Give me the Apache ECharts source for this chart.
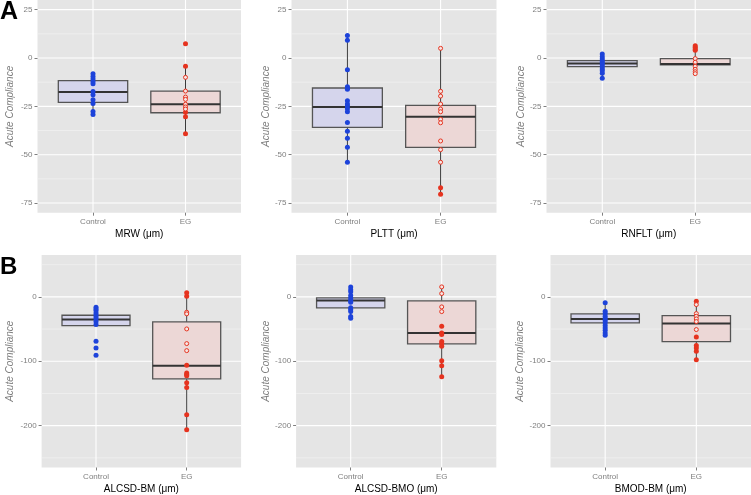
<!DOCTYPE html>
<html>
<head>
<meta charset="utf-8">
<script src="https://cdn.jsdelivr.net/npm/echarts@6/dist/echarts.min.js"></script>
<style>
html,body{margin:0;padding:0;background:#fff;}
#chart{width:751px;height:495px;}
</style>
</head>
<body>
<div id="chart"></div>
<script>
// ---------- data ----------
const groups = ['Control', 'EG'];
const panelNames = ['MRW (\u03bcm)', 'PLTT (\u03bcm)', 'RNFLT (\u03bcm)', 'ALCSD-BM (\u03bcm)', 'ALCSD-BMO (\u03bcm)', 'BMOD-BM (\u03bcm)'];
const panelLetters = ['A', 'B'];
const yTicksTop = [25, 0, -25, -50, -75];
const yMinorTop = [12.5, -12.5, -37.5, -62.5];
const yTicksBottom = [0, -100, -200];
const yMinorBottom = [50, -50, -150, -250];

// box stats: [lower whisker, Q1, median, Q3, upper whisker]
const boxControl = [
  [-29.2, -22.9, -17.6, -11.7, -8.2],
  [-53.9, -35.9, -25.3, -15.5, 11.7],
  [-10.5, -4.5, -2.9, -1.4, 2.1],
  [-44.6, -44.6, -35.3, -28.6, -16.2],
  [-33.3, -17.1, -5.8, -1.6, 15.5],
  [-59.7, -40.5, -34.2, -26.5, -9.3]
];
const boxEG = [
  [-39.2, -28.3, -23.9, -17.1, -4.3],
  [-70.5, -46.2, -30.4, -24.5, 5.0],
  [-8.1, -3.6, -3.1, -0.3, 6.4],
  [-206.4, -127.5, -106.8, -38.9, 6.2],
  [-123.9, -73.1, -56.0, -6.2, 15.5],
  [-97.5, -69.5, -41.5, -29.1, -6.8]
];

// individual points
const ptsControl = [
  [-8.2, -9.5, -10.8, -12.1, -13.3, -17.3, -19.0, -21.6, -23.5, -27.6, -29.2],
  [11.7, 9.2, -6.1, -14.8, -15.7, -16.2, -22.1, -23.8, -24.8, -26.2, -27.8, -33.3, -37.9, -41.5, -46.2, -53.9],
  [2.1, 0.7, -0.5, -1.6, -2.4, -3.4, -4.5, -5.7, -6.6, -7.9, -10.5],
  [-16.2, -18.7, -21.3, -24.9, -28.0, -31.1, -34.2, -38.4, -43.1, -69.0, -79.3, -90.8],
  [15.5, 11.0, 7.8, 2.0, -1.6, -5.3, -8.4, -17.1, -19.7, -22.9, -30.6, -33.3],
  [-9.3, -22.4, -26.0, -30.2, -33.7, -36.9, -40.4, -44.6, -48.2, -51.9, -56.0, -59.7]
];
const ptsEGFilled = [
  [7.4, -4.3, -28.1, -30.4, -39.2],
  [-67.1, -70.5],
  [6.4, 5.5, 4.7, 4.0],
  [6.2, 0.9, -106.4, -118.2, -120.4, -122.4, -133.3, -140.6, -183.0, -206.4],
  [-45.7, -56.0, -58.6, -69.5, -72.6, -76.8, -99.1, -106.8, -123.9],
  [-6.8, -62.2, -75.7, -79.3, -84.6, -97.5]
];
const ptsEGOpen = [
  [-10.0, -17.1, -20.2, -21.4, -23.9, -25.3, -26.4],
  [5.0, -17.2, -19.7, -23.8, -26.4, -27.8, -31.7, -33.5, -42.9, -47.4, -53.9],
  [-0.3, -2.2, -4.3, -5.9, -7.1, -8.1],
  [-23.9, -26.4, -49.8, -72.6, -83.5],
  [15.5, 5.1, -15.6, -22.9],
  [-12.0, -26.0, -30.2, -34.2, -38.4, -50.8]
];

// ---------- layout / style ----------
const gridPos = [
  {left: 37.5, top: 0, width: 203.5, height: 212.7},
  {left: 291.5, top: 0, width: 205, height: 212.7},
  {left: 546.5, top: 0, width: 205, height: 212.7},
  {left: 41.6, top: 255, width: 199.5, height: 213.3},
  {left: 296.1, top: 255, width: 200.2, height: 213.3},
  {left: 550.5, top: 255, width: 201, height: 213.3}
];
const yNameGap = [22.5, 19.5, 19.5, 26.5, 24.5, 23.5];
const FONT = 'Liberation Sans, Arial, sans-serif';
const BLUE = '#1d43da';
const RED = '#e6331f';
const CTRL_FILL = '#d5d5ec';
const EG_FILL = '#ecd7d6';

const chart = echarts.init(document.getElementById('chart'), null, {renderer: 'canvas'});

const grids = [], xAxes = [], yAxes = [], series = [];

for (let i = 0; i < 6; i++) {
  const top = i < 3;
  const yMin = top ? -80 : -265;
  const yMax = top ? 30 : 65;
  const ticks = top ? yTicksTop : yTicksBottom;
  const minor = top ? yMinorTop : yMinorBottom;
  grids.push(Object.assign({show: true, backgroundColor: '#e5e5e5', borderWidth: 0, containLabel: false}, gridPos[i]));
  xAxes.push({
    gridIndex: i, type: 'value', min: 0.4, max: 2.6, position: 'bottom',
    splitLine: {show: false}, axisLine: {show: false, onZero: false},
    axisTick: {show: true, length: 3, customValues: [1, 2], lineStyle: {color: '#7f7f7f', width: 1}},
    axisLabel: {customValues: [1, 2], formatter: v => groups[Math.round(v) - 1], color: '#7f7f7f', fontSize: 8, fontFamily: FONT, margin: 5},
    name: panelNames[i], nameLocation: 'middle', nameGap: 16.5,
    nameTextStyle: {color: '#000', fontSize: 10, fontFamily: FONT}
  });
  yAxes.push({
    gridIndex: i, type: 'value', min: yMin, max: yMax, position: 'left',
    splitLine: {show: false}, axisLine: {show: false, onZero: false},
    axisTick: {show: true, length: 3, customValues: ticks, lineStyle: {color: '#7f7f7f', width: 1}},
    axisLabel: {customValues: ticks, color: '#7f7f7f', fontSize: 8, fontFamily: FONT, margin: 5},
    name: 'Acute Compliance', nameLocation: 'middle', nameGap: yNameGap[i], nameRotate: 90,
    nameTextStyle: {color: '#7f7f7f', fontSize: 10, fontStyle: 'italic', fontFamily: FONT}
  });

  // grid lines
  const gl = [];
  minor.forEach(v => gl.push([0, v, 0]));
  ticks.forEach(v => gl.push([0, v, 1]));
  [1, 2].forEach(v => gl.push([1, v, 1]));
  series.push({
    type: 'custom', xAxisIndex: i, yAxisIndex: i, z: 0, silent: true, clip: true,
    data: gl,
    renderItem: function (params, api) {
      const cs = params.coordSys;
      const orient = api.value(0), v = api.value(1), major = api.value(2);
      let shape;
      if (orient === 0) {
        const y = api.coord([1, v])[1];
        shape = {x1: cs.x, y1: y, x2: cs.x + cs.width, y2: y};
      } else {
        const x = api.coord([v, 0])[0];
        shape = {x1: x, y1: cs.y, x2: x, y2: cs.y + cs.height};
      }
      return {type: 'line', shape: shape, style: {stroke: major ? '#ffffff' : '#f2f2f2', lineWidth: major ? 1.1 : 0.7}};
    }
  });

  // boxes
  series.push({
    type: 'custom', xAxisIndex: i, yAxisIndex: i, z: 2, silent: true,
    data: [[1].concat(boxControl[i]), [2].concat(boxEG[i])],
    encode: {x: 0, y: [1, 2, 3, 4, 5]},
    renderItem: function (params, api) {
      const x = api.value(0);
      const lo = api.value(1), q1 = api.value(2), med = api.value(3), q3 = api.value(4), hi = api.value(5);
      const hw = 0.375;
      const pLo = api.coord([x, lo]), pQ1 = api.coord([x, q1]), pQ3 = api.coord([x, q3]), pHi = api.coord([x, hi]);
      const pl = api.coord([x - hw, med]), pr = api.coord([x + hw, med]);
      const fill = x === 1 ? CTRL_FILL : EG_FILL;
      return {
        type: 'group',
        children: [
          {type: 'line', shape: {x1: pHi[0], y1: pHi[1], x2: pQ3[0], y2: pQ3[1]}, style: {stroke: '#3a3a3a', lineWidth: 1}},
          {type: 'line', shape: {x1: pQ1[0], y1: pQ1[1], x2: pLo[0], y2: pLo[1]}, style: {stroke: '#3a3a3a', lineWidth: 1}},
          {type: 'rect', shape: {x: pl[0], y: pQ3[1], width: pr[0] - pl[0], height: pQ1[1] - pQ3[1]},
            style: {fill: fill, stroke: '#555555', lineWidth: 1.3}},
          {type: 'line', shape: {x1: pl[0], y1: pl[1], x2: pr[0], y2: pr[1]}, style: {stroke: '#333333', lineWidth: 2}}
        ]
      };
    }
  });

  series.push({
    type: 'scatter', xAxisIndex: i, yAxisIndex: i, z: 3, silent: true,
    symbol: 'circle', symbolSize: 5,
    itemStyle: {color: BLUE, opacity: 1},
    data: ptsControl[i].map(v => [1, v])
  });
  series.push({
    type: 'scatter', xAxisIndex: i, yAxisIndex: i, z: 3, silent: true,
    symbol: 'circle', symbolSize: 5,
    itemStyle: {color: RED, opacity: 1},
    data: ptsEGFilled[i].map(v => [2, v])
  });
  series.push({
    type: 'scatter', xAxisIndex: i, yAxisIndex: i, z: 3, silent: true,
    symbol: 'circle', symbolSize: 4,
    itemStyle: {color: '#f6e6e4', borderColor: RED, borderWidth: 1, opacity: 1},
    data: ptsEGOpen[i].map(v => [2, v])
  });
}

chart.setOption({
  animation: false,
  backgroundColor: '#ffffff',
  grid: grids,
  xAxis: xAxes,
  yAxis: yAxes,
  series: series,
  graphic: [
    {type: 'text', left: 0, top: 0, style: {text: panelLetters[0], font: 'bold 25px ' + FONT, fill: '#000'}},
    {type: 'text', left: 0, top: 255, style: {text: panelLetters[1], font: 'bold 24px ' + FONT, fill: '#000'}}
  ]
});
</script>
</body>
</html>
